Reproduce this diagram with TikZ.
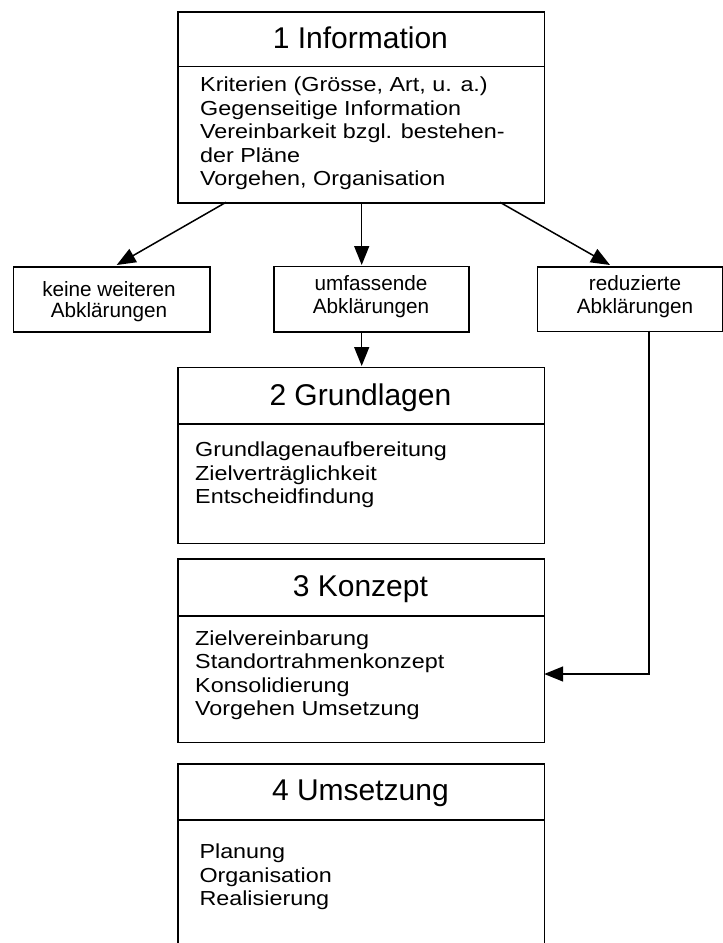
\documentclass[tikz,border=0pt]{standalone}
\usepackage{fontspec}
\setmainfont{Liberation Sans}
\newfontfamily\bodyfont[FakeStretch=1.15]{Liberation Sans}
\usetikzlibrary{arrows.meta}
\tikzset{
  frame/.style={draw, line width=1.5pt, inner sep=0pt, anchor=north west},
  titletext/.style={anchor=base, inner sep=0pt, font=\fontsize{30}{34}\selectfont},
  bodytext/.style={anchor=base west, inner sep=0pt, align=left, font=\bodyfont\fontsize{20.3}{23.5}\selectfont},
  smalltext/.style={anchor=base, inner sep=0pt, align=center, font=\fontsize{20.7}{22.5}\selectfont},
  conn/.style={line width=1.5pt, -{Triangle[length=19pt,width=15pt]}}
}
\begin{document}
\begin{tikzpicture}[x=1pt,y=-1pt]
\useasboundingbox (0,0) rectangle (723,943);

% Box 1
\node[frame, minimum width=366.2pt, minimum height=54.7pt] (h1) at (177.3,11) {};
\node[frame, minimum width=366.2pt, minimum height=136.6pt] (b1) at (177.3,65.7) {};
\node[titletext] (t1) at (360.4,48.3) {1 Information};
\node[bodytext] (x1) at (200,185.7) {Kriterien (Grösse, Art, u. a.)\\Gegenseitige Information\\Vereinbarkeit bzgl. bestehen-\\der Pläne\\Vorgehen, Organisation};

% small boxes
\node[frame, minimum width=196.3pt, minimum height=65pt] (kA) at (12.7,266) {};
\node[smalltext] (kAt) at (109,317.4) {keine weiteren\\[-1.8pt]Abklärungen};
\node[frame, minimum width=195pt, minimum height=65.3pt] (kB) at (273.3,265.7) {};
\node[smalltext] (kBt) at (371,313.3) {umfassende\\Abklärungen};
\node[frame, minimum width=185.3pt, minimum height=64.7pt] (kC) at (536.7,266) {};
\node[smalltext] (kCt) at (635,313) {reduzierte\\Abklärungen};

% Box 2
\node[frame, minimum width=366.2pt, minimum height=56.6pt] (h2) at (177.3,366.7) {};
\node[frame, minimum width=366.2pt, minimum height=119.4pt] (b2) at (177.3,423.3) {};
\node[titletext] (t2) at (360.4,405) {2 Grundlagen};
\node[bodytext] (x2) at (195,503.5) {Grundlagenaufbereitung\\Zielverträglichkeit\\Entscheidfindung};

% Box 3
\node[frame, minimum width=366.2pt, minimum height=56.7pt] (h3) at (177.3,558.3) {};
\node[frame, minimum width=366.2pt, minimum height=126.7pt] (b3) at (177.3,615) {};
\node[titletext] (t3) at (360.4,596.5) {3 Konzept};
\node[bodytext] (x3) at (195,715.7) {Zielvereinbarung\\Standortrahmenkonzept\\Konsolidierung\\Vorgehen Umsetzung};

% Box 4 (cut off at the bottom)
\node[frame, minimum width=366.2pt, minimum height=55.7pt] (h4) at (177.3,763.3) {};
\node[frame, minimum width=366.2pt, minimum height=200pt] (b4) at (177.3,819) {};
\node[titletext] (t4) at (360.4,800.5) {4 Umsetzung};
\node[bodytext] (x4) at (199.3,905.5) {Planung\\Organisation\\Realisierung};

% connectors
\coordinate (s1) at (226,202.3);
\coordinate (e1) at (116.7,265);
\coordinate (s2) at (361.7,202.3);
\coordinate (e2) at (361.7,265);
\coordinate (s3) at (500,202.3);
\coordinate (e3) at (610,265);
\coordinate (s4) at (361.7,331);
\coordinate (e4) at (361.7,366);
\coordinate (s5) at (649,330.7);
\coordinate (e5) at (544.2,674);
\draw[conn] (s1) -- (e1);
\draw[conn] (s2) -- (e2);
\draw[conn] (s3) -- (e3);
\draw[conn] (s4) -- (e4);
\draw[conn] (s5) |- (e5);
\end{tikzpicture}
\end{document}
